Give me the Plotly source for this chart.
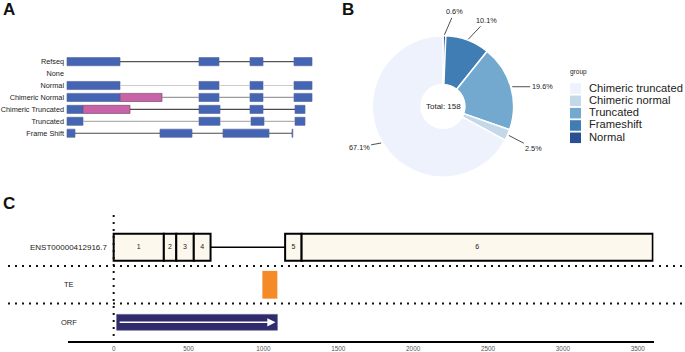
import math
import plotly.graph_objects as go

W, H = 685, 352
FONT = "Liberation Sans, Arial, sans-serif"

# ---------------- Panel A data ----------------
a_rows = ["Refseq", "None", "Normal", "Chimeric Normal", "Chimeric Truncated", "Truncated", "Frame Shift"]
a_exons = [
    [(2, 55), (134, 154), (185, 198), (229, 247)],
    [],
    [(2, 55), (134, 154), (185, 198), (229, 247)],
    [(2, 55), (134, 154), (185, 198), (229, 247)],
    [(2, 18), (134, 155), (185, 198), (230, 240)],
    [(2, 18), (134, 155), (186, 199), (230, 240)],
    [(2, 10), (95, 127), (158, 204), (227, 227.8)],
]
a_inserts = [[], [], [], [(55, 97)], [(18, 65)], [], []]
a_line_colors = ["#555555", "#cccccc", "#cccccc", "#9a9a9a", "#4a4a4a", "#b0b0b0", "#4a4a4a"]

# ---------------- Panel B data (legend order) ----------------
pie_groups = ["Chimeric truncated", "Chimeric normal", "Truncated", "Frameshift", "Normal"]
pie_counts = [106, 4, 31, 16, 1]
pie_colors = ["#EEF2FC", "#C3D9E9", "#74A9CF", "#3F7DB4", "#2B4F93"]

# ---------------- Panel C data ----------------
c_rows = ["ENST00000412916.7", "TE", "ORF"]
c_exon_start = [0, 335, 418, 535, 1145, 1255]
c_exon_end = [335, 418, 535, 647, 1255, 3600]
c_exon_label = ["1", "2", "3", "4", "5", "6"]
c_te = (993, 1093)
c_orf = (20, 1093)
c_ticks = [0, 500, 1000, 1500, 2000, 2500, 3000, 3500]


def px(x):
    return x / W


def py(y):
    return 1 - y / H


fig = go.Figure()

# ---- Panel A traces ----
bx, by, bb = [], [], []
for i, ex in enumerate(a_exons):
    for s, e in ex:
        by.append(i); bb.append(s); bx.append(e - s)
ix, iy, ib = [], [], []
for i, ins in enumerate(a_inserts):
    for s, e in ins:
        iy.append(i); ib.append(s); ix.append(e - s)

for i, (ex, ins) in enumerate(zip(a_exons, a_inserts)):
    segs = sorted(ex + ins)
    lx, ly = [], []
    for (s0, e0), (s1, e1) in zip(segs[:-1], segs[1:]):
        if s1 > e0:
            lx += [e0, s1, None]
            ly += [i, i, None]
    if lx:
        fig.add_trace(go.Scatter(x=lx, y=ly, mode="lines", line=dict(color=a_line_colors[i], width=1.2),
                                 xaxis="x", yaxis="y", showlegend=False, hoverinfo="skip"))

fig.add_trace(go.Bar(orientation="h", y=by, x=bx, base=bb, width=0.68,
                     marker=dict(color="#4464B4", line=dict(color="#5B6BA0", width=0.7)),
                     xaxis="x", yaxis="y", showlegend=False, hoverinfo="skip"))
fig.add_trace(go.Bar(orientation="h", y=iy, x=ix, base=ib, width=0.68,
                     marker=dict(color="#C963A8", line=dict(color="#7A4A70", width=0.7)),
                     xaxis="x", yaxis="y", showlegend=False, hoverinfo="skip"))

# ---- Panel B pie (drawn clockwise from 12 o'clock in reversed legend order) ----
cx, cy, R = 443, 107, 71
p_groups = pie_groups[::-1]
p_counts = pie_counts[::-1]
p_colors = pie_colors[::-1]
fig.add_trace(go.Pie(labels=p_groups, values=p_counts, sort=False, direction="clockwise",
                     rotation=0, hole=0.31, textinfo="none", showlegend=False,
                     marker=dict(colors=p_colors, line=dict(color="white", width=1.5)),
                     domain=dict(x=[px(cx - R), px(cx + R)], y=[py(cy + R), py(cy - R)]),
                     hoverinfo="skip"))

# ---- Panel C traces ----
fig.add_trace(go.Scatter(x=[c_exon_end[3], c_exon_start[4]], y=[0, 0], mode="lines",
                         line=dict(color="black", width=1.5), xaxis="x3", yaxis="y3",
                         showlegend=False, hoverinfo="skip"))
fig.add_trace(go.Bar(orientation="h", y=[0] * len(c_exon_start),
                     x=[e - s for s, e in zip(c_exon_start, c_exon_end)], base=c_exon_start,
                     width=0.72, marker=dict(color="#FDF8EE", line=dict(color="black", width=2)),
                     xaxis="x3", yaxis="y3", showlegend=False, hoverinfo="skip"))
fig.add_trace(go.Scatter(x=[(s + e) / 2 for s, e in zip(c_exon_start, c_exon_end)],
                         y=[0] * len(c_exon_start), text=c_exon_label, mode="text",
                         textfont=dict(size=7, color="#222", family=FONT),
                         xaxis="x3", yaxis="y3", showlegend=False, hoverinfo="skip"))
fig.add_trace(go.Bar(orientation="h", y=[1], x=[c_te[1] - c_te[0]], base=[c_te[0]], width=0.74,
                     marker=dict(color="#F58A28", line=dict(width=0)),
                     xaxis="x3", yaxis="y3", showlegend=False, hoverinfo="skip"))
fig.add_trace(go.Bar(orientation="h", y=[2], x=[c_orf[1] - c_orf[0]], base=[c_orf[0]], width=0.42,
                     marker=dict(color="#2F2B6C", line=dict(color="#4a4a80", width=0.6)),
                     xaxis="x3", yaxis="y3", showlegend=False, hoverinfo="skip"))

annotations = []
shapes = []

# panel letters
for letter, (lx_, ly_) in zip(["A", "B", "C"], [(9, 10), (348, 10), (9, 205)]):
    annotations.append(dict(text="<b>%s</b>" % letter, x=px(lx_), y=py(ly_), xref="paper", yref="paper",
                            xanchor="center", yanchor="middle",
                            showarrow=False, font=dict(size=17, color="#111", family=FONT)))

# pie labels
total = sum(p_counts)
cum = 0
label_off = {"Chimeric truncated": (-22, 4), "Chimeric normal": (25, 13), "Truncated": (30, 0),
             "Frameshift": (18, -19), "Normal": (10, -23)}
for g, v in zip(p_groups, p_counts):
    a0 = cum / total * 360
    cum += v
    a1 = cum / total * 360
    th = math.radians((a0 + a1) / 2)
    ex_ = cx + (R + 1) * math.sin(th)
    ey_ = cy - (R + 1) * math.cos(th)
    ox, oy = label_off[g]
    annotations.append(dict(text="%.1f%%" % (v / total * 100), x=px(ex_), y=py(ey_), xref="paper", yref="paper",
                            ax=ox, ay=oy, showarrow=True, arrowhead=0, arrowwidth=0.8, arrowcolor="#222",
                            standoff=0, startstandoff=0, xanchor="center", yanchor="middle",
                            font=dict(size=7.3, color="#222", family=FONT)))
annotations.append(dict(text="Total: %d" % total, x=px(cx), y=py(cy), xref="paper", yref="paper",
                        xanchor="center", yanchor="middle",
                        showarrow=False, font=dict(size=8, color="#222", family=FONT)))

# manual legend
annotations.append(dict(text="group", x=px(568), y=py(72), xref="paper", yref="paper", xanchor="left",
                        yanchor="middle",
                        showarrow=False, font=dict(size=6.5, color="#222", family=FONT)))
for k, (g, c) in enumerate(zip(pie_groups, pie_colors)):
    yc = 89 + k * 12.4
    shapes.append(dict(type="rect", xref="paper", yref="paper", x0=px(570), x1=px(581),
                       y0=py(yc + 5.3), y1=py(yc - 5.3), fillcolor=c, line=dict(width=0)))
    annotations.append(dict(text=g, x=px(587), y=py(yc - 1), xref="paper", yref="paper", xanchor="left",
                            yanchor="middle",
                            showarrow=False, font=dict(size=11.2, color="#222", family=FONT)))

# panel C row labels
for i, r in enumerate(c_rows):
    annotations.append(dict(text=r, x=px(69), y=i, xref="paper", yref="y3", showarrow=False,
                            xanchor="center", yanchor="middle",
                            font=dict(size=8 if i == 0 else 7.5, color="#222", family=FONT)))

# ORF arrow
annotations.append(dict(text="", x=c_orf[1] - 12, y=2, ax=c_orf[0] + 10, ay=2, xref="x3", yref="y3",
                        axref="x3", ayref="y3", showarrow=True, arrowhead=2, arrowsize=1.1,
                        arrowwidth=1.5, arrowcolor="white"))

# dotted separators
for yv in [0.5, 1.5]:
    shapes.append(dict(type="line", xref="paper", yref="y3", x0=px(8), x1=1, y0=yv, y1=yv,
                       line=dict(color="#111", width=2, dash="2px,5px")))
shapes.append(dict(type="line", xref="x3", yref="paper", x0=0, x1=0, y0=py(338), y1=py(212),
                   line=dict(color="#111", width=2, dash="2px,5px")))

fig.update_layout(
    width=W, height=H, margin=dict(l=0, r=0, t=0, b=0),
    paper_bgcolor="white", plot_bgcolor="rgba(0,0,0,0)",
    barmode="overlay", showlegend=False,
    font=dict(family=FONT),
    xaxis=dict(domain=[px(65), px(315)], range=[0, 250], visible=False, anchor="y"),
    yaxis=dict(domain=[py(140), py(56)], range=[6.5, -0.5], anchor="x", tickvals=list(range(len(a_rows))),
               ticktext=a_rows, ticks="", showgrid=False, zeroline=False, showline=False,
               tickfont=dict(size=7.3, color="#222", family=FONT)),
    xaxis3=dict(domain=[px(68), px(653.5)], range=[-305, 3605], anchor="y3", showline=True,
                linecolor="black", linewidth=2, ticks="", tickvals=c_ticks,
                tickfont=dict(size=6.4, color="#555", family=FONT), showgrid=False, zeroline=False),
    yaxis3=dict(domain=[py(343), py(226)], range=[2.5, -0.6], anchor="x3", visible=False),
    annotations=annotations, shapes=shapes,
)

fig.write_html("out.html", config={"displayModeBar": False},
               post_script="document.body.style.margin='0px';")
